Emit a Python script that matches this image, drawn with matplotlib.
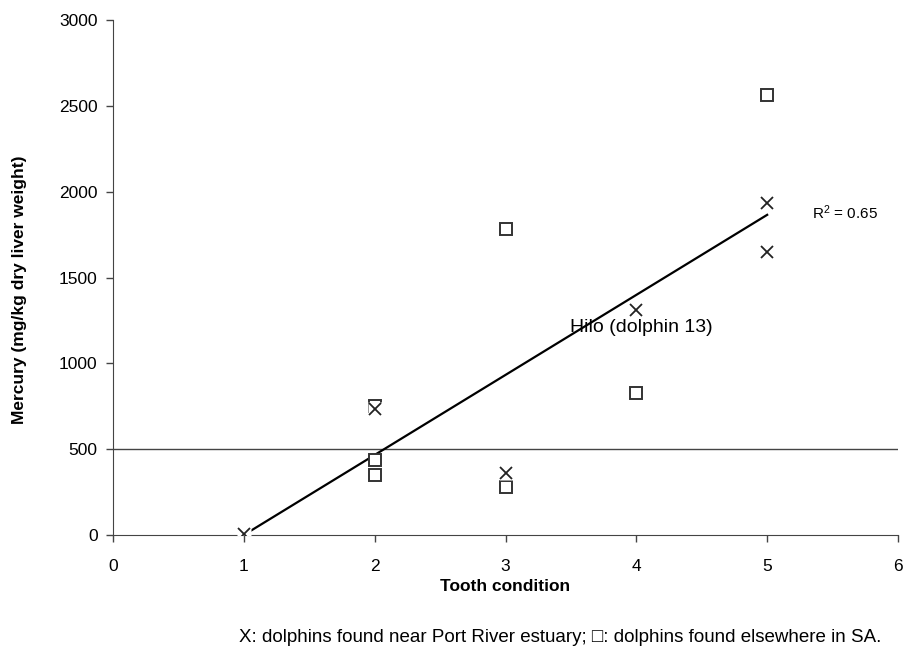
import matplotlib
matplotlib.use('Agg')
import matplotlib.pyplot as plt
from matplotlib import font_manager

# Data
tooth_port = [1, 2, 3, 4, 5, 5]                     # "X" dolphins (Port River estuary)
mercury_port = [5, 734, 361, 1310, 1934, 1650]
tooth_else = [2, 2, 2, 3, 3, 4, 5]                  # square dolphins (elsewhere in SA)
mercury_else = [751, 437, 352, 1782, 280, 827, 2563]
trend_x = [1, 5]
trend_y = [0, 1865]
x_ticks = [0, 1, 2, 3, 4, 5, 6]
y_ticks = [0, 500, 1000, 1500, 2000, 2500, 3000]
ref_level = 500

installed = {f.name for f in font_manager.fontManager.ttflist}
SANS = 'Liberation Sans' if 'Liberation Sans' in installed else 'DejaVu Sans'
NARROW = 'Liberation Sans Narrow' if 'Liberation Sans Narrow' in installed else SANS

plt.rcParams['font.family'] = [SANS, 'DejaVu Sans']
plt.rcParams['mathtext.default'] = 'regular'

fig = plt.figure(figsize=(9.05, 6.7), dpi=100)
ax = fig.add_axes([113 / 905, 1 - 535 / 670, (898 - 113) / 905, (535 - 20) / 670])

ax.set_xlim(0, 6)
ax.set_ylim(0, 3000)

# reference line at 500
ax.axhline(ref_level, color='#444444', lw=1.0, zorder=1)

# trend line
ax.plot(trend_x, trend_y, color='black', lw=1.6, zorder=2)

# squares
ax.plot(tooth_else, mercury_else, linestyle='none', marker='s', markersize=8.2,
        markerfacecolor='white', markeredgecolor='#333333', markeredgewidth=1.4, zorder=3)

# X markers drawn over a white box (as in the original spreadsheet chart)
ax.plot(tooth_port, mercury_port, linestyle='none', marker='s', markersize=9.5,
        markerfacecolor='white', markeredgecolor='none', zorder=4)
ax.plot(tooth_port, mercury_port, linestyle='none', marker='x', markersize=9,
        color='#222222', markeredgewidth=1.3, zorder=5)

ax.text(3.49, 1211, 'Hilo (dolphin 13)', fontsize=14, ha='left', va='center', zorder=6)
ax.text(5.34, 1875, 'R$^2$ = 0.65', fontsize=11, ha='left', va='center')

for side in ['top', 'right']:
    ax.spines[side].set_visible(False)
ax.spines['left'].set_color('#444444')
ax.spines['bottom'].set_color('#444444')

ax.set_xticks(x_ticks)
ax.set_yticks(y_ticks)
ax.tick_params(axis='x', direction='out', length=5, width=1, color='#444444',
               pad=12, labelsize=12.5)
ax.tick_params(axis='y', direction='out', length=5, width=1, color='#444444',
               pad=6, labelsize=12.5)
for lab in ax.get_xticklabels():
    lab.set_fontfamily([NARROW, 'DejaVu Sans'])

fig.text(0.558, 0.125, 'Tooth condition', fontsize=12.5, fontweight='bold',
         ha='center', va='center')
fig.text(0.021, 0.567, 'Mercury (mg/kg dry liver weight)', fontsize=12.5, fontweight='bold',
         rotation=90, ha='center', va='center')

fig.text(0.619, 0.049,
         'X: dolphins found near Port River estuary; \u25a1: dolphins found elsewhere in SA.',
         fontsize=13.5, ha='center', va='center', family=[NARROW, 'DejaVu Sans'])

fig.savefig('out.png', dpi=100)
